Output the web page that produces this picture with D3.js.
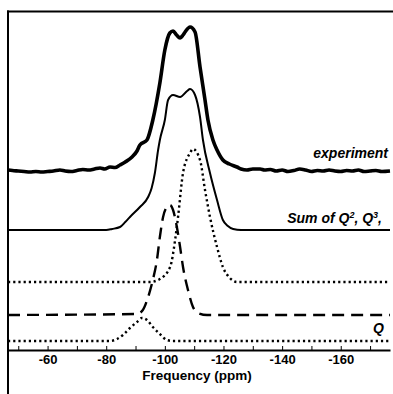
<!DOCTYPE html>
<html>
<head>
<meta charset="utf-8">
<script src="https://cdn.jsdelivr.net/npm/d3@7"></script>
<style>
  body { margin: 0; background: #fff; }
  svg { display: block; font-family: "Liberation Sans", Arial, sans-serif; }
</style>
</head>
<body>
<svg id="chart" width="393" height="394"></svg>
<script>
// x ticks (ppm)
const tickValues = [-50, -60, -70, -80, -90, -100, -110, -120, -130, -140, -150, -160, -170];
const tickLabels = [-60, -80, -100, -120, -140, -160];

// [ppm, intensity above own baseline]
const experiment = [[-46.5,2],[-48,1.5],[-50,1],[-52,0.5],[-54,0],[-56,0.5],[-58,0],[-60,0.5],[-62,1],[-64.2,2],
  [-66,1],[-68,0.5],[-70,1.5],[-72,2.5],[-74,2],[-76,3],[-77.9,4],[-79.5,3],[-81.3,5],[-83,4.5],[-84.7,7],
  [-86.5,10],[-88.8,15],[-90.5,21],[-91.5,27],[-93.9,32],[-95.9,52],[-98.3,89],[-100,122],[-101.7,139],
  [-102.8,141],[-104,137],[-105.2,134],[-106.2,137],[-106.9,140],[-108.6,145],[-110.3,140],[-112,105],
  [-113.7,72],[-114.7,52],[-116.4,32],[-117.8,22],[-119.8,12],[-122,8],[-124.6,5],[-126,3],[-128,2],[-130,3],
  [-132.5,3],[-134,2],[-136,2.5],[-138,1],[-140,2],[-142,0.5],[-144,1.5],[-146,3],[-148,2],[-150,0.5],
  [-152,1.5],[-154,1],[-156,2],[-158,1],[-160,0.5],[-162,1.5],[-164,1],[-166,2],[-168,0.5],[-170,1],
  [-172,1.5],[-174,0.5],[-176.8,1]];
const sumQ = [[-46.5,0],[-80,0],[-82,1],[-84.7,3],[-86.5,8],[-88.1,13],[-91.5,23],[-94.3,33],[-95.5,42],
  [-96.6,57],[-97.7,80],[-98.3,90],[-100,110],[-101.1,130],[-102.8,135],[-105.2,133],[-107.6,139],
  [-108.6,141],[-110.3,135],[-112,113],[-113,90],[-115.4,57],[-117.8,30],[-119.8,10],[-121.5,4],
  [-123.3,1],[-126,0],[-176.8,0]];
const q4 = [[-46.5,0],[-94.9,0],[-98.3,3],[-101.8,15],[-103.5,42],[-104.5,65],[-106.2,109],[-108.6,129],
  [-109.6,133],[-112,122],[-113.7,92],[-115.4,65],[-117.8,35],[-119.8,15],[-122.2,4],[-124.6,0],[-176.8,0]];
const q3 = [[-46.5,0],[-90.5,1],[-92.5,5],[-94.3,18],[-95.9,35],[-97.3,55],[-98.3,78],[-99.4,98],
  [-100.7,108],[-101.8,110],[-102.8,105],[-104.1,88],[-105.2,68],[-106.2,48],[-107.9,25],[-109.6,8],
  [-111.3,2],[-114.4,0],[-176.8,0]];
const q2 = [[-46.5,0],[-81.3,0],[-83.7,2],[-85.7,6],[-88.1,13],[-90.5,19],[-92.2,23],[-93.9,21],
  [-95.9,14],[-98.3,7],[-100.7,1],[-102.8,0],[-176.8,0]];

// vertical stacking offsets
const offsets = { experiment: 178, sum: 120, q4: 68, q3: 35, q2: 9 };

const svg = d3.select("#chart");

const x = d3.scaleLinear().domain([-46.5, -176.8]).range([8, 390]);
const y = d3.scaleLinear().domain([0, 340]).range([350, 10]);

const line = off => d3.line()
  .x(d => x(d[0]))
  .y(d => y(d[1] + off))
  .curve(d3.curveMonotoneX);

const series = [
  { data: q2, off: offsets.q2, width: 2.4, dash: "2.2 3" },
  { data: q3, off: offsets.q3, width: 2.4, dash: "12 7" },
  { data: q4, off: offsets.q4, width: 2.4, dash: "2.2 3" },
  { data: sumQ, off: offsets.sum, width: 2, dash: null },
  { data: experiment, off: offsets.experiment, width: 3.6, dash: null }
];

svg.append("g")
  .selectAll("path")
  .data(series)
  .join("path")
  .attr("d", s => line(s.off)(s.data))
  .attr("fill", "none")
  .attr("stroke", "#000")
  .attr("stroke-width", s => s.width)
  .attr("stroke-dasharray", s => s.dash)
  .attr("stroke-linejoin", "round");

// frame
svg.append("line").attr("x1", 7).attr("x2", 393).attr("y1", 11.5).attr("y2", 11.5)
  .attr("stroke", "#000").attr("stroke-width", 2);
svg.append("line").attr("x1", 8).attr("x2", 8).attr("y1", 10.5).attr("y2", 394)
  .attr("stroke", "#000").attr("stroke-width", 2);

// x axis
const xAxis = svg.append("g")
  .attr("transform", "translate(0,350)")
  .call(d3.axisBottom(x)
    .tickValues(tickValues)
    .tickSize(-4)
    .tickSizeOuter(0)
    .tickPadding(5)
    .tickFormat(d => tickLabels.includes(d) ? String(d) : ""));
xAxis.select(".domain").attr("stroke-width", 2);
xAxis.selectAll(".tick line").attr("stroke-width", 1);
xAxis.selectAll(".tick text")
  .attr("font-size", 13).attr("font-weight", "bold")
  .attr("font-family", "'Liberation Sans', Arial, sans-serif");

svg.append("text")
  .attr("x", 197).attr("y", 380)
  .attr("text-anchor", "middle")
  .attr("font-size", 13.5).attr("font-weight", "bold")
  .text("Frequency (ppm)");

// curve labels
const lab = svg.append("g")
  .attr("font-size", 14).attr("font-weight", "bold").attr("font-style", "italic")
  .attr("text-anchor", "end");
lab.append("text").attr("x", 388).attr("y", 158).text("experiment");
const sumText = lab.append("text").attr("x", 382).attr("y", 223);
sumText.append("tspan").text("Sum of Q");
sumText.append("tspan").attr("font-size", 9).attr("dy", -5).text("2");
sumText.append("tspan").attr("dy", 5).text(", Q");
sumText.append("tspan").attr("font-size", 9).attr("dy", -5).text("3");
sumText.append("tspan").attr("dy", 5).text(",");
lab.append("text").attr("x", 384).attr("y", 333).text("Q");
</script>
</body>
</html>
